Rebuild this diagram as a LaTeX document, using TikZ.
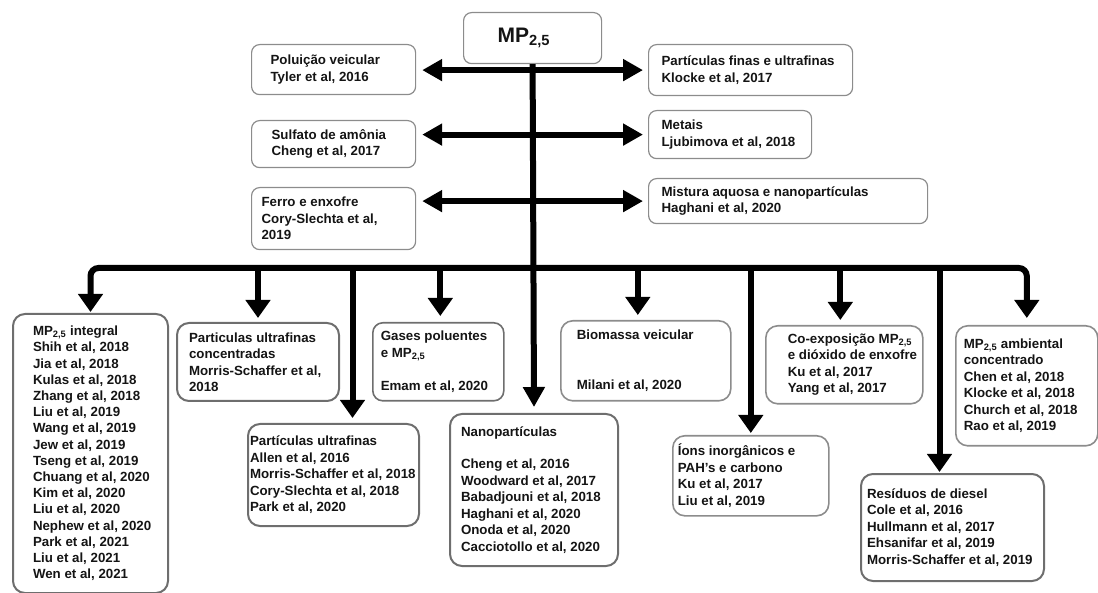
\documentclass[tikz,border=0pt]{standalone}
\usepackage{fontspec}
\setmainfont{Liberation Sans}
\usepackage{tikz}
\usetikzlibrary{arrows.meta}
\definecolor{cxBorda}{HTML}{8C8C8C}
\definecolor{cxBordaB}{HTML}{6E6E6E}
\definecolor{cxTexto}{HTML}{141414}
% text block: left padding, width, lines
\newcommand{\cxtxt}[3]{\hspace*{#1}\parbox[c]{#2}{\raggedright #3}}

\begin{document}
\begin{tikzpicture}[x=1pt, y=-1pt,
    caixa/.style={draw=cxBorda, line width=1.2pt, rounded corners=8pt, anchor=north west,
        inner sep=0pt, text=cxTexto, font=\fontsize{13.3}{16.5}\selectfont\bfseries},
    caixab/.style={caixa, draw=cxBordaB, line width=2pt, rounded corners=12pt},
    seta/.style={line width=6pt, -{Triangle[length=20pt,width=21pt]}},
    setab/.style={line width=6pt, -{Triangle[length=18pt,width=24pt]}}]
    \useasboundingbox (0,0) rectangle (1098,593);
    % root
    \node[caixa, minimum height=51pt, font=\fontsize{21}{24}\selectfont\bfseries]
        (mp) at (463,12) {\cxtxt{34pt}{104pt}{MP\textsubscript{2,5}}};
    % upper boxes
    \node[caixa, minimum height=50pt] (pv) at (251,44)
        {\cxtxt{19pt}{145pt}{Poluição veicular\\Tyler et al, 2016}};
    \node[caixa, minimum height=47pt] (sa) at (251,120)
        {\cxtxt{20pt}{144pt}{Sulfato de amônia\\Cheng et al, 2017}};
    \node[caixa, minimum height=62pt] (fe) at (251,187)
        {\cxtxt{10pt}{154pt}{Ferro e enxofre\\Cory-Slechta et al,\\2019}};
    \node[caixa, minimum height=51pt] (pf) at (648,44)
        {\cxtxt{13pt}{191pt}{Partículas finas e ultrafinas\\Klocke et al, 2017}};
    \node[caixa, minimum height=48pt] (me) at (648,110)
        {\cxtxt{13pt}{150pt}{Metais\\Ljubimova et al, 2018}};
    \node[caixa, minimum height=45pt] (mi) at (648,178)
        {\cxtxt{13pt}{266pt}{Mistura aquosa e nanopartículas\\Haghani et al, 2020}};
    % lower boxes
    \node[caixab, minimum height=279pt, font=\fontsize{13.3}{16.2}\selectfont\bfseries] (int) at (12,313)
        {\cxtxt{20pt}{135pt}{MP\textsubscript{2,5} integral\\Shih et al, 2018\\Jia et al, 2018\\Kulas et al, 2018\\
        Zhang et al, 2018\\Liu et al, 2019\\Wang et al, 2019\\Jew et al, 2019\\Tseng et al, 2019\\
        Chuang et al, 2020\\Kim et al, 2020\\Liu et al, 2020\\Nephew et al, 2020\\Park et al, 2021\\
        Liu et al, 2021\\Wen et al, 2021}};
    \node[caixab, minimum height=78pt] (cc) at (176,322)
        {\cxtxt{12pt}{150pt}{Particulas ultrafinas\\concentradas\\Morris-Schaffer et al,\\2018}};
    \node[caixab, minimum height=102pt] (uf) at (247,423)
        {\cxtxt{2pt}{169pt}{Partículas ultrafinas\\Allen et al, 2016\\Morris-Schaffer et al, 2018\\
        Cory-Slechta et al, 2018\\Park et al, 2020}};
    \node[caixa, draw=cxBordaB, line width=1.6pt, rounded corners=10pt, minimum height=78pt] (gp) at (372,322)
        {\cxtxt{8pt}{123pt}{Gases poluentes\\e MP\textsubscript{2,5}\\[16.5pt]Emam  et al, 2020}};
    \node[caixab, minimum height=152pt] (np) at (449,413)
        {\cxtxt{11pt}{157pt}{Nanopartículas\\[16pt]Cheng et al, 2016\\Woodward et al, 2017\\
        Babadjouni et al, 2018\\Haghani et al, 2020\\Onoda et al, 2020\\Cacciotollo et al, 2020}};
    \node[caixa, line width=1.6pt, rounded corners=12pt, minimum height=80pt] (bm) at (560,320)
        {\cxtxt{16pt}{154pt}{Biomassa veicular\\[33pt]Milani et al, 2020}};
    \node[caixa, line width=1.6pt, rounded corners=12pt, minimum height=80pt] (io) at (672,435)
        {\cxtxt{5pt}{151pt}{Íons inorgânicos e\\PAH’s e carbono\\Ku et al, 2017\\Liu et al, 2019}};
    \node[caixa, line width=1.6pt, rounded corners=12pt, minimum height=78pt] (ce) at (765,325)
        {\cxtxt{22pt}{135pt}{Co-exposição MP\textsubscript{2,5}\\e dióxido de enxofre\\Ku et al, 2017\\Yang et al, 2017}};
    \node[caixab, minimum height=107pt] (re) at (860,473)
        {\cxtxt{6pt}{177pt}{Resíduos de diesel\\Cole et al, 2016\\Hullmann  et al, 2017\\
        Ehsanifar et al, 2019\\Morris-Schaffer et al, 2019}};
    \node[caixa, line width=1.6pt, rounded corners=12pt, minimum height=120pt] (am) at (955,325)
        {\cxtxt{8pt}{134pt}{MP\textsubscript{2,5} ambiental\\concentrado\\Chen et al, 2018\\
        Klocke et al, 2018\\Church et al, 2018\\Rao et al, 2019}};
    % connectors
    \coordinate (bus) at (0,268);
    \draw[seta] (mp.south) -- ([yshift=6pt]np.north);
    \draw[seta, {Triangle[length=20pt,width=21pt]}-{Triangle[length=20pt,width=21pt]}, shorten <=6pt, shorten >=5pt]
        (pv.east |- pf.west) -- (pf.west);
    \draw[seta, {Triangle[length=20pt,width=21pt]}-{Triangle[length=20pt,width=21pt]}, shorten <=6pt, shorten >=5pt]
        (sa.east |- me.west) -- (me.west);
    \draw[seta, {Triangle[length=20pt,width=21pt]}-{Triangle[length=20pt,width=21pt]}, shorten <=6pt, shorten >=5pt]
        (fe.east |- mi.west) -- (mi.west);
    \draw[setab, {Triangle[length=18pt,width=24pt]}-{Triangle[length=18pt,width=24pt]}, rounded corners=8pt,
        shorten <=1pt, shorten >=7pt]
        (int.north) -- (int.north |- bus) -- (am.north |- bus) -- (am.north);
    \draw[setab, shorten >=4pt] (cc.north |- bus) -- (cc.north);
    \draw[setab, shorten >=6pt] ([xshift=2pt]gp.north |- bus) -- ([xshift=2pt]gp.north);
    \draw[setab, shorten >=5pt] ([xshift=-8pt]bm.north |- bus) -- ([xshift=-8pt]bm.north);
    \draw[setab, shorten >=5pt] ([xshift=-4pt]ce.north |- bus) -- ([xshift=-4pt]ce.north);
    \draw[setab, shorten >=5pt] ([xshift=19pt]uf.north |- bus) -- ([xshift=19pt]uf.north);
    \draw[setab, shorten >=2pt] (io.north |- bus) -- (io.north);
    \draw[setab, shorten >=1pt] ([xshift=-13pt]re.north |- bus) -- ([xshift=-13pt]re.north);
\end{tikzpicture}
\end{document}
